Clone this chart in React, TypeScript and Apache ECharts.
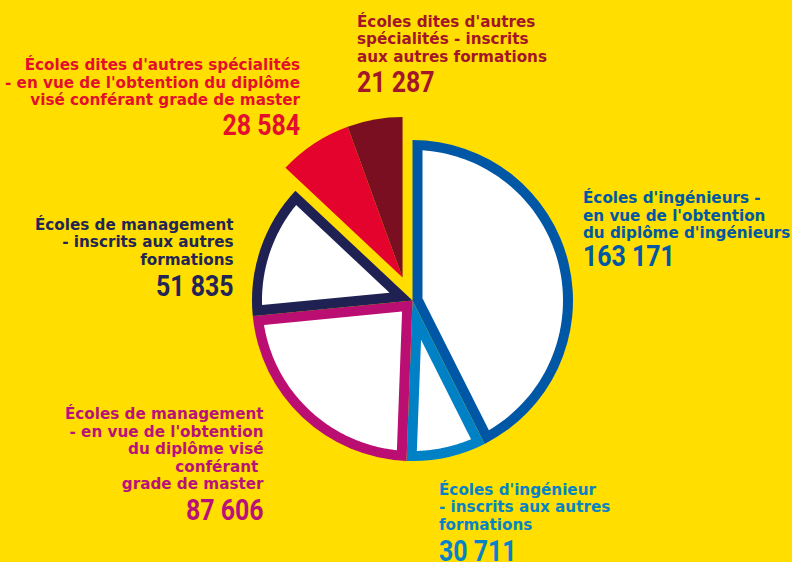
import React, { useEffect, useRef } from "react";
import * as echarts from "echarts";

// ---- data ----
const categories = [
  "Écoles d'ingénieurs - en vue de l'obtention du diplôme d'ingénieurs",
  "Écoles d'ingénieur - inscrits aux autres formations",
  "Écoles de management - en vue de l'obtention du diplôme visé conférant grade de master",
  "Écoles de management - inscrits aux autres formations",
  "Écoles dites d'autres spécialités - en vue de l'obtention du diplôme visé conférant grade de master",
  "Écoles dites d'autres spécialités - inscrits aux autres formations",
];
const values = [163171, 30711, 87606, 51835, 28584, 21287];
const labelLines = [
  ["Écoles d'ingénieurs -", "en vue de l'obtention", "du diplôme d'ingénieurs"],
  ["Écoles d'ingénieur", "- inscrits aux autres", "formations"],
  ["Écoles de management", "- en vue de l'obtention", "du diplôme visé", "conférant ", "grade de master"],
  ["Écoles de management", "- inscrits aux autres", "formations"],
  ["Écoles dites d'autres spécialités", "- en vue de l'obtention du diplôme", "visé conférant grade de master"],
  ["Écoles dites d'autres", "spécialités - inscrits", "aux autres formations"],
];
const filledSlices = [false, false, false, false, true, true];

// ---- styles / layout ----
const BG = "#ffde00";
const sliceColors = ["#0057a5", "#0081c6", "#bb0e72", "#1f2153", "#e4032d", "#7a0f22"];
const textColors = ["#0058a4", "#0683c6", "#b8127a", "#222555", "#e30f2c", "#a31529"];
const CX = 412.5;
const CY = 300.5;
const R = 160.5;
const BORDER = 10;
const EXPLODE = 25;
const LINE_H = 17.5;
const NUM_SCALE = 0.83;
const labelPos = [
  { x: 583, top: 189.5, align: "left", numY: 255.5 },
  { x: 439, top: 481, align: "left", numY: 551 },
  { x: 263.5, top: 405.5, align: "right", numY: 509.5 },
  { x: 233.5, top: 216, align: "right", numY: 285.5 },
  { x: 300, top: 56.25, align: "right", numY: 124.5 },
  { x: 357, top: 13, align: "left", numY: 81.5 },
];

const fmt = (v: number) => String(v).replace(/\B(?=(\d{3})+(?!\d))/g, " ");
const TWO_PI = Math.PI * 2;

function normAng(a: number) {
  while (a > Math.PI) a -= TWO_PI;
  while (a < -Math.PI) a += TWO_PI;
  return a;
}

function insetPolygon(a0: number, a1: number) {
  const theta = a1 - a0;
  const mid = (a0 + a1) / 2;
  const dir = (a: number) => [Math.sin(a), -Math.cos(a)];
  const s = BORDER / Math.sin(theta / 2);
  const b = dir(mid);
  const ax = b[0] * s;
  const ay = b[1] * s;
  const Rp = R - BORDER;
  const hit = (a: number) => {
    const u = dir(a);
    const au = ax * u[0] + ay * u[1];
    const t = -au + Math.sqrt(au * au - s * s + Rp * Rp);
    return [ax + t * u[0], ay + t * u[1]];
  };
  const p0 = hit(a0);
  const p1 = hit(a1);
  const b0 = a0 + normAng(Math.atan2(p0[0], -p0[1]) - a0);
  const b1 = a1 + normAng(Math.atan2(p1[0], -p1[1]) - a1);
  const pts: number[][] = [[CX + ax, CY + ay]];
  const N = 80;
  for (let k = 0; k <= N; k++) {
    const a = b0 + ((b1 - b0) * k) / N;
    pts.push([CX + Rp * Math.sin(a), CY - Rp * Math.cos(a)]);
  }
  return pts;
}

export default function App() {
  const ref = useRef<HTMLDivElement>(null);
  useEffect(() => {
    if (!ref.current) return;
    const chart = echarts.init(ref.current, undefined, { renderer: "svg" });
    const total = values.reduce((a, b) => a + b, 0);

    // bisector of the exploded (filled) group
    let acc = 0;
    let gStart = -1;
    let gEnd = 0;
    values.forEach((v, i) => {
      if (filledSlices[i]) {
        if (gStart < 0) gStart = acc;
        gEnd = acc + v;
      }
      acc += v;
    });
    const gMid = ((gStart + gEnd) / 2 / total) * TWO_PI;
    const ecx = CX + EXPLODE * Math.sin(gMid);
    const ecy = CY - EXPLODE * Math.cos(gMid);

    const transparent = "rgba(0,0,0,0)";
    const basePie = {
      type: "pie",
      radius: [0, R],
      startAngle: 90,
      clockwise: true,
      silent: true,
      avoidLabelOverlap: false,
      label: { show: false },
      labelLine: { show: false },
      emphasis: { disabled: true },
    };

    const graphics: any[] = [];
    labelLines.forEach((lines, i) => {
      const p = labelPos[i];
      graphics.push({
        type: "text",
        x: p.x,
        y: p.top,
        silent: true,
        style: {
          text: lines.join("\n"),
          font: 'bold 15.2px "DejaVu Sans"',
          lineHeight: LINE_H,
          fill: textColors[i],
          textAlign: p.align,
          textVerticalAlign: "top",
        },
      });
      graphics.push({
        type: "text",
        x: p.x,
        y: p.numY,
        scaleX: NUM_SCALE,
        silent: true,
        style: {
          text: fmt(values[i]),
          font: 'bold 30px "Roboto"',
          fill: textColors[i],
          textAlign: p.align,
          textVerticalAlign: "middle",
        },
      });
    });

    chart.setOption({
      animation: false,
      backgroundColor: BG,
      series: [
        {
          ...basePie,
          name: "contours",
          center: [CX, CY],
          z: 2,
          data: values.map((v, i) => ({
            name: categories[i],
            value: v,
            itemStyle: { color: filledSlices[i] ? transparent : sliceColors[i], borderWidth: 0 },
          })),
        },
        {
          ...basePie,
          name: "autres spécialités",
          center: [ecx, ecy],
          z: 2,
          data: values.map((v, i) => ({
            name: categories[i],
            value: v,
            itemStyle: { color: filledSlices[i] ? sliceColors[i] : transparent, borderWidth: 0 },
          })),
        },
        {
          type: "custom",
          name: "intérieur",
          coordinateSystem: "none",
          silent: true,
          z: 3,
          data: values.map((v) => [v]),
          renderItem: (params: any, api: any) => {
            const i = params.dataIndex;
            if (filledSlices[i]) return { type: "group", children: [] };
            let start = 0;
            for (let k = 0; k < i; k++) start += values[k];
            const v = api.value(0);
            const a0 = (start / total) * TWO_PI;
            const a1 = ((start + v) / total) * TWO_PI;
            return {
              type: "polygon",
              shape: { points: insetPolygon(a0, a1) },
              style: { fill: "#ffffff" },
            };
          },
        },
      ],
      graphic: { elements: graphics },
    });
    return () => chart.dispose();
  }, []);
  return (
    <div
      ref={ref}
      style={{ position: "fixed", left: 0, top: 0, width: 792, height: 562, background: BG }}
    />
  );
}
